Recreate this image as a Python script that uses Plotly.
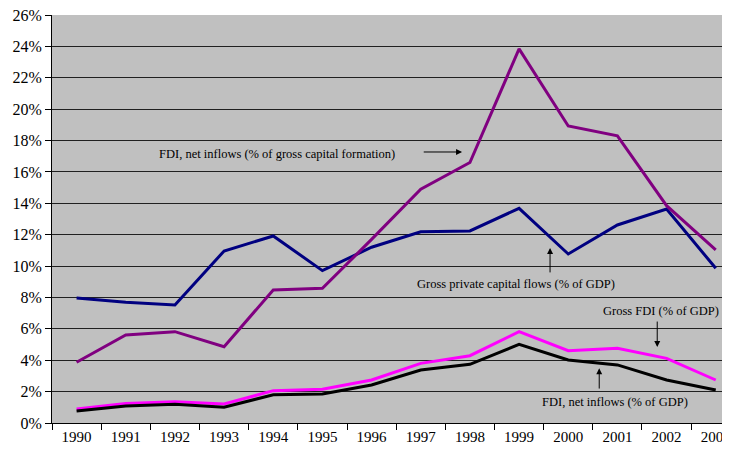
import plotly.graph_objects as go

years = [str(y) for y in range(1990, 2004)]

fdi_gcf = [3.87, 5.61, 5.82, 4.86, 8.48, 8.58, 11.7, 14.9, 16.6, 23.84, 18.93, 18.3, 13.85, 11.03]
private_flows = [7.97, 7.7, 7.52, 10.96, 11.92, 9.71, 11.2, 12.19, 12.24, 13.68, 10.77, 12.62, 13.64, 9.86]
gross_fdi = [0.89, 1.25, 1.36, 1.21, 2.06, 2.15, 2.74, 3.8, 4.29, 5.82, 4.61, 4.76, 4.12, 2.74]
fdi_gdp = [0.76, 1.08, 1.19, 1.0, 1.8, 1.85, 2.42, 3.38, 3.74, 5.01, 4.02, 3.7, 2.74, 2.1]

y_ticks = list(range(0, 27, 2))
y_tick_text = [f"{v}%" for v in y_ticks]

font_family = "Liberation Serif"

fig = go.Figure()

series = [
    (private_flows, "#000080", "Gross private capital flows (% of GDP)"),
    (fdi_gcf, "#800080", "FDI, net inflows (% of gross capital formation)"),
    (gross_fdi, "#FF00FF", "Gross FDI (% of GDP)"),
    (fdi_gdp, "#000000", "FDI, net inflows (% of GDP)"),
]
for vals, color, name in series:
    fig.add_trace(go.Scatter(
        x=years, y=vals, mode="lines", name=name,
        line=dict(color=color, width=3),
    ))

# text labels (no arrows)
labels = [
    ("FDI, net inflows (% of gross capital formation)", 4.07, 17.14),
    ("Gross private capital flows (% of GDP)", 8.94, 8.86),
    ("Gross FDI (% of GDP)", 11.89, 7.14),
    ("FDI, net inflows (% of GDP)", 10.95, 1.36),
]
for text, x, y in labels:
    fig.add_annotation(x=x, y=y, xref="x", yref="y", text=text, showarrow=False,
                       font=dict(family=font_family, size=12.5, color="#000000"))

# arrows: (head_x, head_y, tail_x, tail_y)
arrows = [
    (7.84, 17.27, 7.03, 17.27),
    (9.63, 11.15, 9.63, 9.5),
    (11.81, 4.84, 11.81, 6.56),
    (10.63, 3.49, 10.63, 2.10),
]
for hx, hy, tx, ty in arrows:
    fig.add_annotation(x=hx, y=hy, ax=tx, ay=ty, xref="x", yref="y", axref="x", ayref="y",
                       text="", showarrow=True, arrowhead=2, arrowsize=1.2, arrowwidth=1,
                       arrowcolor="#000000")

# page body adds an 8px margin, so the figure is sized to fit inside the window
fig.update_layout(
    width=722, height=447,
    margin=dict(l=44, r=0, t=7, b=32),
    paper_bgcolor="white",
    plot_bgcolor="#C0C0C0",
    showlegend=False,
    font=dict(family=font_family, size=16, color="#000000"),
)
fig.update_xaxes(
    type="category", range=[-0.5, 13.29], automargin=False,
    tickson="boundaries", ticks="outside", ticklen=6, tickcolor="#000000",
    showline=True, linecolor="#000000", linewidth=1,
    showgrid=False, zeroline=False, ticklabeloverflow="allow",
    tickfont=dict(family=font_family, size=15),
)
fig.update_yaxes(
    range=[0, 26], tickvals=y_ticks, ticktext=y_tick_text, automargin=False,
    ticks="outside", ticklen=6, tickcolor="#000000",
    showline=True, linecolor="#000000", linewidth=1,
    showgrid=True, gridcolor="#202020", gridwidth=1, zeroline=False,
    ticklabeloverflow="allow",
    tickfont=dict(family=font_family, size=16),
)

fig.write_html("out.html")
